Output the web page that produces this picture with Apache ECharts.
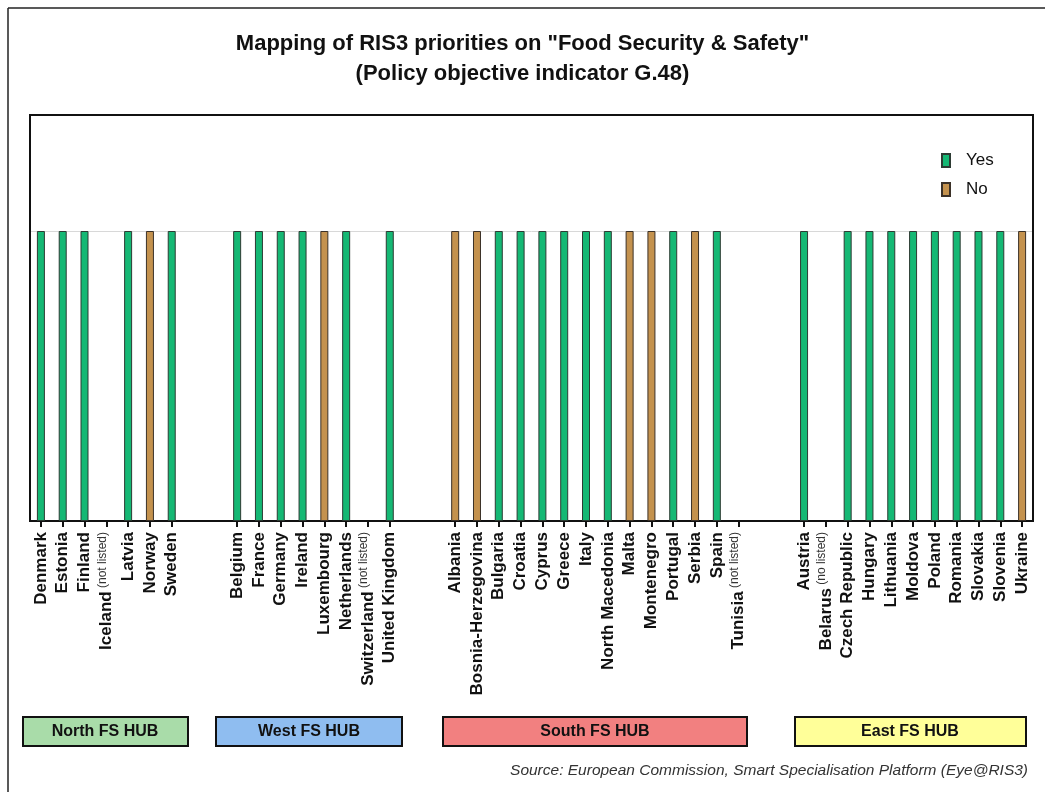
<!DOCTYPE html>
<html>
<head>
<meta charset="utf-8">
<script src="https://cdn.jsdelivr.net/npm/echarts@6/dist/echarts.min.js"></script>
<style>
  html, body { margin: 0; padding: 0; background: #fff; }
  #t1 { width: 1045px; height: 792px; }
</style>
</head>
<body>
<div id="t1"></div>
<script>
// countries per hub, with status: Y = yes, N = no, X = not listed
var northCountries = ['Denmark', 'Estonia', 'Finland', 'Iceland', 'Latvia', 'Norway', 'Sweden'];
var northStatus    = ['Y', 'Y', 'Y', 'X', 'Y', 'N', 'Y'];
var westCountries  = ['Belgium', 'France', 'Germany', 'Ireland', 'Luxembourg', 'Netherlands', 'Switzerland', 'United Kingdom'];
var westStatus     = ['Y', 'Y', 'Y', 'Y', 'N', 'Y', 'X', 'Y'];
var southCountries = ['Albania', 'Bosnia-Herzegovina', 'Bulgaria', 'Croatia', 'Cyprus', 'Greece', 'Italy', 'North Macedonia', 'Malta', 'Montenegro', 'Portugal', 'Serbia', 'Spain', 'Tunisia'];
var southStatus    = ['N', 'N', 'Y', 'Y', 'Y', 'Y', 'Y', 'Y', 'N', 'N', 'Y', 'N', 'Y', 'X'];
var eastCountries  = ['Austria', 'Belarus', 'Czech Republic', 'Hungary', 'Lithuania', 'Moldova', 'Poland', 'Romania', 'Slovakia', 'Slovenia', 'Ukraine'];
var eastStatus     = ['Y', 'X', 'Y', 'Y', 'Y', 'Y', 'Y', 'Y', 'Y', 'Y', 'N'];
// small note printed next to the not listed ones
var notListedNote = {'Iceland': '(not listed)', 'Switzerland': '(not listed)', 'Tunisia': '(not listed)', 'Belarus': '(no listed)'};
var hubNames = ['North FS HUB', 'West FS HUB', 'South FS HUB', 'East FS HUB'];

var hubs = [
    [northCountries, northStatus],
    [westCountries, westStatus],
    [southCountries, southStatus],
    [eastCountries, eastStatus]
];

// build the axis: two empty slots between hubs
var categories = [];
var allStatus = [];
hubs.forEach(function (h, i) {
    if (i > 0) {
        categories.push('', '');
        allStatus.push('', '');
    }
    categories = categories.concat(h[0]);
    allStatus = allStatus.concat(h[1]);
});

var yesData = allStatus.map(function (s) { return s === 'Y' ? 1 : '-'; });
var noData = allStatus.map(function (s) { return s === 'N' ? 1 : '-'; });

var font = 'Liberation Sans, Arial, sans-serif';

var option = {
    backgroundColor: '#fff',
    title: {
        text: 'Mapping of RIS3 priorities on "Food Security & Safety"\n(Policy objective indicator G.48)',
        left: 'center',
        top: 24,
        textStyle: {
            fontFamily: font,
            fontSize: 22,
            fontWeight: 'bold',
            color: '#111',
            lineHeight: 30
        }
    },
    legend: {
        data: ['Yes', 'No'],
        orient: 'vertical',
        left: 936,
        top: 147,
        icon: 'rect',
        itemWidth: 8,
        itemHeight: 13,
        itemGap: 12,
        textStyle: {
            fontFamily: font,
            fontSize: 17,
            color: '#111',
            padding: [0, 0, 0, 11]
        }
    },
    grid: {
        left: 30,
        right: 12,
        top: 115,
        bottom: 271
    },
    xAxis: {
        type: 'category',
        data: categories,
        axisLine: {lineStyle: {color: '#111', width: 2}},
        axisTick: {
            show: true,
            alignWithLabel: true,
            length: 6,
            lineStyle: {color: '#111', width: 2},
            interval: function (idx) { return categories[idx] !== ''; }
        },
        axisLabel: {
            interval: 0,
            rotate: 90,
            margin: 11,
            formatter: function (val) {
                if (!val) return '';
                if (notListedNote[val]) return '{n|' + val + '} {s|' + notListedNote[val] + '}';
                return '{n|' + val + '}';
            },
            rich: {
                n: {fontFamily: font, fontSize: 17, fontWeight: 'bold', color: '#111', lineHeight: 20},
                s: {fontFamily: font, fontSize: 12, color: '#333', verticalAlign: 'top', lineHeight: 20}
            }
        }
    },
    yAxis: {
        type: 'value',
        min: 0,
        max: 1.4,
        interval: 1,
        axisLabel: {show: false},
        axisTick: {show: false},
        axisLine: {show: false},
        splitLine: {lineStyle: {color: '#d8d8d8', width: 1}}
    },
    series: [
        {
            name: 'Yes',
            type: 'bar',
            barWidth: 8,
            barGap: '-100%',
            data: yesData,
            itemStyle: {color: '#15b874', borderColor: '#2d3b33', borderWidth: 1}
        },
        {
            name: 'No',
            type: 'bar',
            barWidth: 8,
            barGap: '-100%',
            data: noData,
            itemStyle: {color: '#c4924e', borderColor: '#3b3128', borderWidth: 1}
        }
    ],
    graphic: [
        {type: 'line', shape: {x1: 8, y1: 8, x2: 1045, y2: 8}, style: {stroke: '#222', lineWidth: 1.5}},
        {type: 'line', shape: {x1: 8, y1: 8, x2: 8, y2: 792}, style: {stroke: '#222', lineWidth: 1.5}},
        // plot frame
        {type: 'rect', z: 1, shape: {x: 30, y: 115, width: 1003, height: 406}, style: {fill: null, stroke: '#111', lineWidth: 2}},
        {type: 'rect', shape: {x: 23, y: 717, width: 165, height: 29}, style: {fill: '#a9dca9', stroke: '#111', lineWidth: 2}},
        {type: 'text', x: 105, y: 731.5, style: {text: hubNames[0], fill: '#111', font: 'bold 16px ' + font, align: 'center', verticalAlign: 'middle'}},
        {type: 'rect', shape: {x: 216, y: 717, width: 186, height: 29}, style: {fill: '#8fbdf0', stroke: '#111', lineWidth: 2}},
        {type: 'text', x: 309, y: 731.5, style: {text: hubNames[1], fill: '#111', font: 'bold 16px ' + font, align: 'center', verticalAlign: 'middle'}},
        {type: 'rect', shape: {x: 443, y: 717, width: 304, height: 29}, style: {fill: '#f28080', stroke: '#111', lineWidth: 2}},
        {type: 'text', x: 595, y: 731.5, style: {text: hubNames[2], fill: '#111', font: 'bold 16px ' + font, align: 'center', verticalAlign: 'middle'}},
        {type: 'rect', shape: {x: 795, y: 717, width: 231, height: 29}, style: {fill: '#ffff99', stroke: '#111', lineWidth: 2}},
        {type: 'text', x: 910, y: 731.5, style: {text: hubNames[3], fill: '#111', font: 'bold 16px ' + font, align: 'center', verticalAlign: 'middle'}},
        {type: 'text', x: 1028, y: 771, style: {text: 'Source: European Commission, Smart Specialisation Platform (Eye@RIS3)', fill: '#333', font: 'italic 15.5px ' + font, align: 'right', verticalAlign: 'middle'}}
    ]
};
echarts.init(document.getElementById('t1')).setOption(option);
</script>
</body>
</html>
